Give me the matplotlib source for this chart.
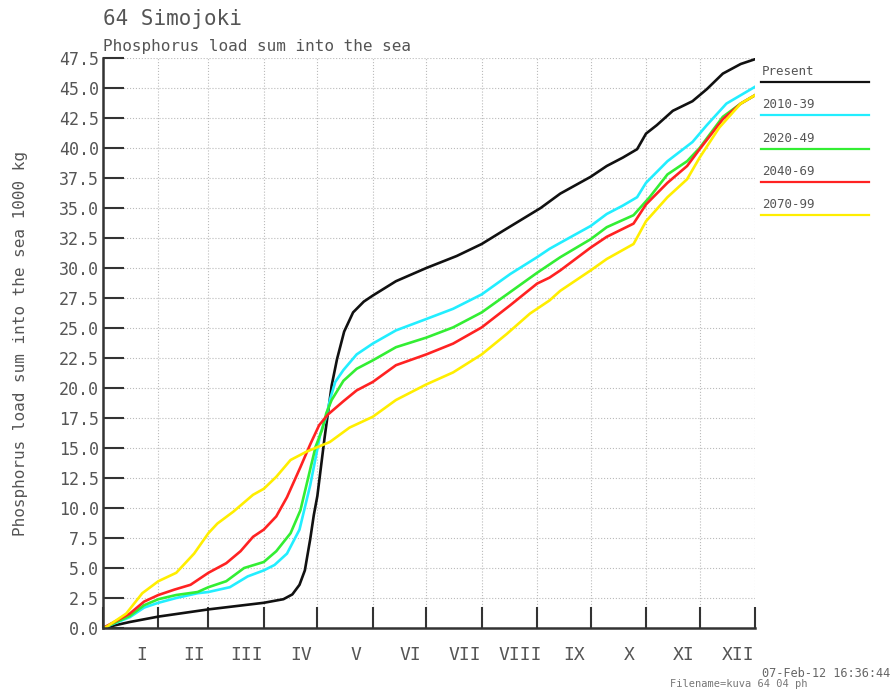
import matplotlib
matplotlib.use("Agg")
import matplotlib.pyplot as plt
import numpy as np

# month lengths (days) and roman month labels for the x axis
month_days = [31, 28, 31, 30, 31, 30, 31, 31, 30, 31, 30, 31]
month_labels = ["I", "II", "III", "IV", "V", "VI", "VII", "VIII", "IX", "X", "XI", "XII"]

series_names = ["Present", "2010-39", "2020-49", "2040-69", "2070-99"]

# cumulative phosphorus load, 1000 kg (day of year -> value)
present_days = [0, 15, 31, 59, 90, 101, 106, 110, 113, 116, 118, 120, 122, 124, 126, 128, 131, 135,
                140, 146, 151, 164, 181, 198, 212, 224, 245, 256, 273, 282, 291, 299, 304, 310,
                319, 330, 338, 347, 357, 365]
present_vals = [0, 0.5, 0.95, 1.55, 2.1, 2.4, 2.8, 3.6, 4.8, 7.4, 9.4, 11.0, 13.4, 15.8, 18.0, 20.2,
                22.4, 24.7, 26.3, 27.2, 27.7, 28.9, 30.0, 31.0, 32.0, 33.1, 35.0, 36.2, 37.6, 38.5,
                39.2, 39.9, 41.2, 41.9, 43.1, 43.9, 44.9, 46.2, 47.0, 47.4]

c2010_days = [0, 15, 23, 31, 41, 53, 59, 71, 81, 90, 96, 103, 110, 116, 118, 121.7, 125, 127,
              130, 134.6, 142, 151, 164, 181, 196, 212, 228, 243, 250, 256, 273, 282, 291, 299, 304,
              316, 330, 338, 349, 357, 365]
c2010_vals = [0, 0.9, 1.7, 2.1, 2.5, 2.9, 3.0, 3.4, 4.3, 4.8, 5.25, 6.2, 8.2, 11.9, 13.4, 16.2,
              17.6, 19.0, 20.5, 21.5, 22.8, 23.7, 24.8, 25.75, 26.6, 27.8, 29.5, 30.9, 31.6, 32.1,
              33.5, 34.5, 35.2, 35.9, 37.1, 38.9, 40.5, 41.9, 43.7, 44.4, 45.1]

c2020_days = [0, 15, 23, 31, 41, 53, 59, 69, 79, 90, 97, 105, 110.5, 115, 119, 122.6, 125, 128,
              134.6, 142, 151, 164, 181, 196, 212, 228, 243, 250, 256, 273, 282, 297, 306, 316,
              327, 334, 347, 357, 365]
c2020_vals = [0, 1.0, 1.9, 2.4, 2.75, 3.0, 3.4, 3.9, 5.0, 5.5, 6.4, 7.9, 9.8, 12.6, 15.1, 16.5, 17.9,
              19.0, 20.6, 21.6, 22.3, 23.4, 24.2, 25.05, 26.3, 28.0, 29.6, 30.3, 30.9, 32.4, 33.4,
              34.4, 35.9, 37.8, 38.9, 40.0, 42.6, 43.7, 44.4]

c2040_days = [0, 15, 23, 31, 40, 49, 59, 69, 77, 84, 90, 97, 103, 110.5, 116, 121, 126, 134.6, 142,
              151, 164, 181, 196, 212, 228, 243, 250, 256, 273, 282, 297, 304, 316, 327, 334, 347,
              357, 365]
c2040_vals = [0, 1.2, 2.2, 2.75, 3.2, 3.6, 4.6, 5.4, 6.4, 7.6, 8.2, 9.3, 10.9, 13.4, 15.3, 16.9, 17.8,
              18.9, 19.8, 20.5, 21.9, 22.8, 23.7, 25.05, 26.9, 28.7, 29.2, 29.8, 31.7, 32.6, 33.7,
              35.3, 37.1, 38.5, 39.9, 42.4, 43.7, 44.4]

c2070_days = [0, 2, 13, 22, 31, 41, 51, 59, 64, 73, 84, 90, 97, 105, 114, 127, 138, 151, 164, 181,
              196, 212, 226, 239, 250, 256, 273, 282, 297, 304, 316, 327, 334, 345, 357, 365]
c2070_vals = [0, 0.1, 1.2, 2.9, 3.9, 4.6, 6.2, 7.9, 8.7, 9.7, 11.1, 11.6, 12.6, 14.0, 14.7, 15.5,
              16.7, 17.6, 19.0, 20.3, 21.3, 22.8, 24.5, 26.2, 27.3, 28.1, 29.8, 30.75, 32.0, 33.9,
              35.9, 37.4, 39.2, 41.7, 43.7, 44.4]

all_days = [present_days, c2010_days, c2020_days, c2040_days, c2070_days]
all_vals = [present_vals, c2010_vals, c2020_vals, c2040_vals, c2070_vals]
colors = ["#111111", "#22eeff", "#33ee33", "#ff2222", "#ffee00"]

plt.rcParams['font.family'] = ['DejaVu Sans Mono']
txt_col = "#555555"

fig = plt.figure(figsize=(8.94, 6.97), dpi=100)
ax = fig.add_axes([103 / 894, 69 / 697, 652 / 894, 570 / 697])

for d, v, c in zip(all_days, all_vals, colors):
    ax.plot(d, v, color=c, lw=1.9, solid_joinstyle='round')

ax.set_xlim(0, 365)
ax.set_ylim(0, 47.5)

# month-end ticks, labels in the middle of each month
month_ends = np.concatenate([[0], np.cumsum(month_days)])
label_pos = month_ends[:-1] + np.array(month_days) / 2 + 6
ax.set_xticks(month_ends)
ax.set_xticklabels([])
ax.set_xticks(label_pos, minor=True)
ax.set_xticklabels(month_labels, minor=True, fontsize=13, color=txt_col)
ax.tick_params(axis='x', which='major', direction='in', length=15, width=1.5, color='#333333')
ax.tick_params(axis='x', which='minor', length=0, pad=13)

yt = np.arange(0, 47.6, 2.5)
ax.set_yticks(yt)
ax.set_yticklabels(["%.1f" % y for y in yt], fontsize=12, color=txt_col)
ax.tick_params(axis='y', direction='in', length=15, width=1.5, color='#333333', pad=3)

ax.grid(True, which='major', color='#bbbbbb', linestyle=':', linewidth=0.8)
for s in ['top', 'right']:
    ax.spines[s].set_visible(False)
for s in ['left', 'bottom']:
    ax.spines[s].set_linewidth(1.8)
    ax.spines[s].set_color('#333333')

ax.set_ylabel("Phosphorus load sum into the sea 1000 kg", fontsize=11.5, color=txt_col, labelpad=22)

fig.text(103 / 894, 1 - 25 / 697, "64 Simojoki", fontsize=15, color=txt_col, va='baseline')
fig.text(103 / 894, 1 - 51 / 697, "Phosphorus load sum into the sea", fontsize=11.5,
         color=txt_col, va='baseline')

# legend drawn as text + line pairs to the right of the plot
for i, (name, c) in enumerate(zip(series_names, colors)):
    yb = 75 + i * 33.3
    fig.text(762 / 894, 1 - yb / 697, name, fontsize=9, color=txt_col, va='baseline')
    fig.add_artist(plt.Line2D([761 / 894, 869 / 894], [1 - (yb + 7) / 697] * 2,
                              color=c, lw=1.6, transform=fig.transFigure))

fig.text(890 / 894, 1 - 677 / 697, "07-Feb-12 16:36:44", fontsize=8.6, color='#666666',
         ha='right', va='baseline')
fig.text(670 / 894, 1 - 687 / 697, "Filename=kuva 64 04 ph", fontsize=7.5, color='#777777',
         va='baseline')

fig.savefig("out.png", dpi=100)
